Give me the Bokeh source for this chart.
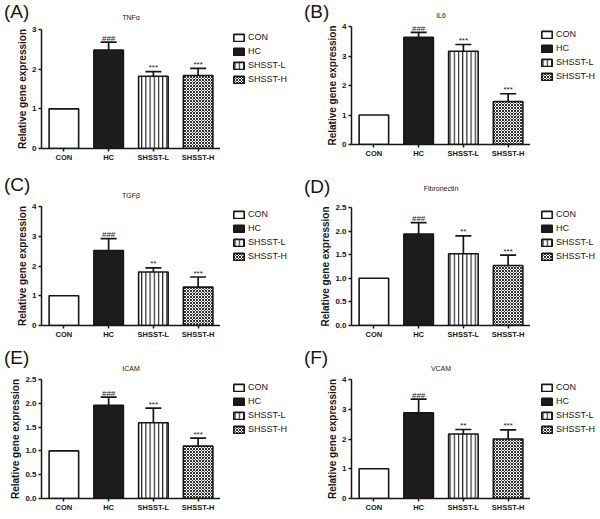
from bokeh.plotting import figure
from bokeh.models import (ColumnDataSource, FixedTicker, Legend, LegendItem, Label,
                          LabelSet, Whisker, TeeHead, Range1d, NumeralTickFormatter, Spacer,
                          BoxAnnotation)
from bokeh.layouts import column, row
from bokeh.embed import file_html
from bokeh.resources import INLINE
from bokeh.core.properties import value

# ---------------- data ----------------
categories = ["CON", "HC", "SHSST-L", "SHSST-H"]
panel_letters = ["(A)", "(B)", "(C)", "(D)", "(E)", "(F)"]
genes = ["TNFα", "IL6", "TGFβ", "Fibronectin", "ICAM", "VCAM"]
y_label = "Relative gene expression"

tnfa_mean = [1.0, 2.48, 1.82, 1.84]
tnfa_upper = [1.0, 2.68, 1.94, 2.02]
tnfa_marks = ["", "###", "***", "***"]
tnfa_ticks = [0, 1, 2, 3]

il6_mean = [1.0, 3.63, 3.16, 1.46]
il6_upper = [1.0, 3.80, 3.39, 1.72]
il6_marks = ["", "###", "***", "***"]
il6_ticks = [0, 1, 2, 3, 4]

tgfb_mean = [1.0, 2.52, 1.80, 1.29]
tgfb_upper = [1.0, 2.92, 1.94, 1.63]
tgfb_marks = ["", "###", "**", "***"]
tgfb_ticks = [0, 1, 2, 3, 4]

fn_mean = [1.0, 1.94, 1.52, 1.27]
fn_upper = [1.0, 2.18, 1.90, 1.49]
fn_marks = ["", "###", "**", "***"]
fn_ticks = [0.0, 0.5, 1.0, 1.5, 2.0, 2.5]

icam_mean = [1.0, 1.96, 1.59, 1.10]
icam_upper = [1.0, 2.13, 1.90, 1.27]
icam_marks = ["", "###", "***", "***"]
icam_ticks = [0.0, 0.5, 1.0, 1.5, 2.0, 2.5]

vcam_mean = [1.0, 2.88, 2.17, 2.00]
vcam_upper = [1.0, 3.34, 2.32, 2.31]
vcam_marks = ["", "###", "**", "***"]
vcam_ticks = [0, 1, 2, 3, 4]

# ---------------- styles / layout ----------------
FONT = "Liberation Sans"
INK = "#161616"
FRAME_W = 179

bar_fill = ["white", "#1c1c1c", "white", "white"]
bar_hatch = [None, None, "vertical_line", "diagonal_cross"]
bar_hatch_scale = [1, 1, 4.2, 3.0]
bar_hatch_weight = [1, 1, 1.1, 0.9]

# panel width, panel height, frame top, frame height, border left, strip height,
# letter glyph top, title centre y, legend top offset, legend x gap, y tick format
panels = [
    (tnfa_mean, tnfa_upper, tnfa_marks, tnfa_ticks, 300, 173, 29, 119, 41, 24, 4.0, 16.7, 8, 12, "0"),
    (il6_mean, il6_upper, il6_marks, il6_ticks, 299, 173, 26, 118, 51, 22, 3.5, 15.0, 7, 10, "0"),
    (tgfb_mean, tgfb_upper, tgfb_marks, tgfb_ticks, 300, 173, 33, 119, 41, 26, 3.5, 22.0, 10, 12, "0"),
    (fn_mean, fn_upper, fn_marks, fn_ticks, 299, 173, 34, 118, 51, 27, 6.0, 15.0, 9, 10, "0.0"),
    (icam_mean, icam_upper, icam_marks, icam_ticks, 300, 172, 33, 119, 41, 26, 3.5, 22.0, 10, 12, "0.0"),
    (vcam_mean, vcam_upper, vcam_marks, vcam_ticks, 299, 172, 33, 119, 51, 26, 4.0, 22.0, 10, 10, "0"),
]


def bar_style(i):
    kw = dict(fill_color=bar_fill[i], line_color=INK, line_width=1.6)
    if bar_hatch[i]:
        kw.update(hatch_pattern=bar_hatch[i], hatch_scale=bar_hatch_scale[i],
                  hatch_weight=bar_hatch_weight[i], hatch_color=INK)
    return kw


def blank_fig(w, h, x_range=(0, 1), y_range=(0, 1)):
    f = figure(width=w, height=h, x_range=Range1d(*x_range), y_range=Range1d(*y_range),
               output_backend="svg", toolbar_location=None, min_border=0,
               x_axis_location=None, y_axis_location=None)
    f.outline_line_color = None
    f.grid.visible = False
    f.background_fill_color = "white"
    f.border_fill_color = "white"
    return f


def make_panel(k):
    (means, upper, marks, ticks, W, h, ftop, fh, bl, S, letter_top, title_y, top_off, lx,
     fmt) = panels[k]
    bb = h - ftop - fh
    main_h = h - S
    main_w = bl + FRAME_W
    leg_w = W - main_w

    # ---- strip with panel letter and gene title ----
    strip = blank_fig(W, S)
    strip.add_layout(Label(x=3.4, y=S - letter_top + 3.4, x_units="screen", y_units="screen",
                           text=panel_letters[k], text_align="left", text_baseline="top",
                           text_font=FONT, text_font_size="19px", text_color=INK))
    strip.add_layout(Label(x=bl + FRAME_W / 2, y=S - title_y, x_units="screen",
                           y_units="screen", text=genes[k], text_align="center",
                           text_baseline="middle", text_font=FONT, text_font_size="7px",
                           text_color=INK))

    # ---- main bar chart ----
    p = figure(x_range=categories, y_range=Range1d(ticks[0], ticks[-1]),
               width=main_w, height=main_h, output_backend="svg", toolbar_location=None,
               min_border_left=bl, min_border_right=0, min_border_top=ftop - S,
               min_border_bottom=bb)
    p.x_range.range_padding = 0
    p.outline_line_color = None
    p.xgrid.visible = False
    p.ygrid.visible = False
    p.background_fill_color = "white"
    p.border_fill_color = "white"

    for i, c in enumerate(categories):
        p.vbar(x=[c], top=[means[i]], bottom=0, width=0.66, **bar_style(i))

    src = ColumnDataSource(dict(cat=categories[1:], top=means[1:], upper=upper[1:],
                                mark=marks[1:]))
    p.add_layout(Whisker(base="cat", lower="top", upper="upper", source=src, line_width=1.7,
                         line_color=INK, lower_head=None,
                         upper_head=TeeHead(size=16, line_width=1.7, line_color=INK)))
    p.add_layout(LabelSet(x="cat", y="upper", text="mark", source=src, text_align="center",
                          text_baseline="alphabetic", y_offset=1.5, text_font_size="8px",
                          text_font=value(FONT), text_color=INK))

    for ax in (p.xaxis, p.yaxis):
        ax.axis_line_width = 1.5
        ax.axis_line_color = INK
        ax.major_tick_line_width = 1.5
        ax.major_tick_line_color = INK
        ax.major_tick_in = 0
        ax.major_tick_out = 3
        ax.minor_tick_line_color = None
        ax.major_label_text_font = FONT
        ax.major_label_text_font_style = "bold"
        ax.major_label_text_color = INK
    p.xaxis.major_label_text_font_size = "7.5px"
    p.xaxis.major_label_standoff = 1
    p.yaxis.major_label_text_font_size = "8px"
    p.yaxis.major_label_standoff = 2
    p.yaxis.ticker = FixedTicker(ticks=ticks)
    p.yaxis.formatter = NumeralTickFormatter(format=fmt)
    p.yaxis.axis_label = y_label
    p.yaxis.axis_label_text_font = FONT
    p.yaxis.axis_label_text_font_style = "bold"
    p.yaxis.axis_label_text_font_size = "10px"
    p.yaxis.axis_label_text_color = INK
    p.yaxis.axis_label_standoff = 1

    # ---- legend: proxy bars (hidden under a white box) give the legend swatches ----
    lf = blank_fig(leg_w - lx, main_h - top_off, x_range=(-1, 4), y_range=(0, 4))
    items = []
    for i, c in enumerate(categories):
        r = lf.vbar(x=[i], top=[means[i]], bottom=0, width=0.5, level="image",
                    **bar_style(i))
        items.append(LegendItem(label=c, renderers=[r]))
    lf.add_layout(BoxAnnotation(fill_color="white", fill_alpha=1.0, line_alpha=0,
                                level="underlay"))
    lf.add_layout(Legend(items=items, location="top_left", orientation="vertical",
                         glyph_width=13, glyph_height=9, label_height=9, label_standoff=3,
                         spacing=4, padding=0, margin=0, border_line_color=None,
                         background_fill_alpha=0, label_text_font_size="9px",
                         label_text_font=FONT, label_text_color=INK))
    leg_block = column(Spacer(width=leg_w, height=top_off),
                       row(Spacer(width=lx, height=main_h - top_off), lf, spacing=0),
                       spacing=0)

    return column(strip, row(p, leg_block, spacing=0), spacing=0)


panels_out = [make_panel(k) for k in range(6)]
layout = column(row(panels_out[0], panels_out[1], spacing=0),
                row(panels_out[2], panels_out[3], spacing=0),
                row(panels_out[4], panels_out[5], spacing=0), spacing=0)

open("out.html", "w").write(file_html(layout, INLINE))
